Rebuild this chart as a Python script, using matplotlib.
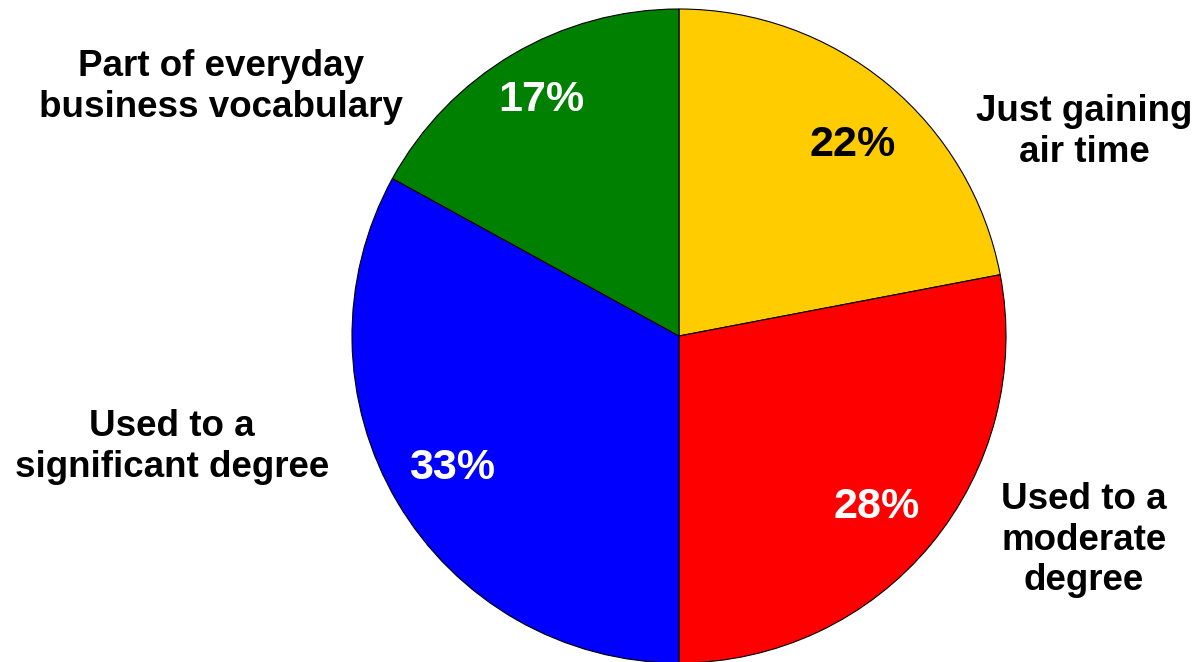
import matplotlib
matplotlib.use('Agg')
import matplotlib.pyplot as plt

labels = ['Just gaining\nair time', 'Used to a\nmoderate\ndegree',
          'Used to a\nsignificant degree', 'Part of everyday\nbusiness vocabulary']
values = [22, 28, 33, 17]
colors = ['#FFCC00', '#FF0000', '#0000FF', '#008000']
pct_colors = ['black', 'white', 'white', 'white']

plt.rcParams['font.family'] = ['Liberation Sans', 'DejaVu Sans']

W, H = 1196, 662
fig = plt.figure(figsize=(W / 100, H / 100), dpi=100)
ax = fig.add_axes([0, 0, 1, 1])

cx, cy, r = 679, 326, 327
wedges, _ = ax.pie(values, colors=colors, startangle=90, counterclock=False,
                   center=(cx, cy), radius=r, frame=True,
                   wedgeprops=dict(edgecolor='black', linewidth=0.8))
ax.set_xlim(0, W)
ax.set_ylim(0, H)
ax.set_aspect('equal')
ax.axis('off')

# percentage labels (pixel positions, y measured from bottom)
pct_pos = [(853, 517), (877, 155), (452, 194), (541, 562)]
for v, (x, y), c in zip(values, pct_pos, pct_colors):
    ax.text(x, y, f'{v}%', fontsize=31, fontweight='bold', color=c,
            ha='center', va='center')

lab_pos = [(1084, 530), (1084, 122), (172, 215), (221, 575)]
for t, (x, y) in zip(labels, lab_pos):
    ax.text(x, y, t, fontsize=26.5, fontweight='bold', color='black',
            ha='center', va='center', linespacing=1.2)

fig.savefig('out.png', dpi=100, facecolor='white')
